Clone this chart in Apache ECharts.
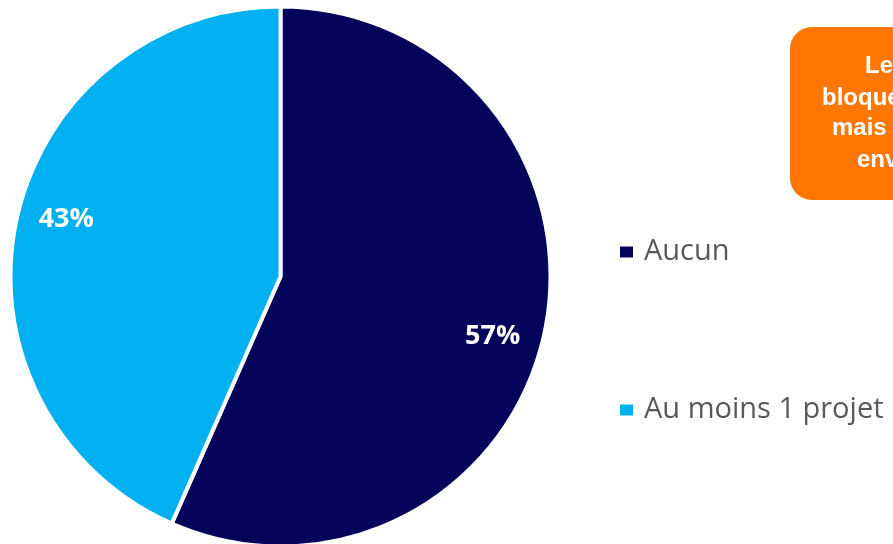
<!DOCTYPE html>
<html>
<head>
<meta charset="utf-8">
<script src="https://cdn.jsdelivr.net/npm/echarts@6/dist/echarts.min.js"></script>
<style>
html,body{margin:0;padding:0;background:#fff;}
#chart{width:893px;height:544px;}
</style>
</head>
<body>
<div id="chart"></div>
<script>
const categories = ['Aucun', 'Au moins 1 projet'];
const values = [56.6, 43.4];
const colors = ['#04045A', '#00B0F0'];
const noteLines = ['Les', 'bloqués', 'mais', 'envisagés'];

const chart = echarts.init(document.getElementById('chart'));
const pieData = categories.map((c, i) => ({ name: c, value: values[i], itemStyle: { color: colors[i] } }));

chart.setOption({
  animation: false,
  legend: {
    orient: 'vertical',
    left: 613,
    top: 231,
    itemGap: 126,
    itemWidth: 15,
    itemHeight: 13,
    icon: 'rect',
    data: categories,
    textStyle: {
      fontFamily: 'Open Sans',
      fontSize: 29,
      lineHeight: 32,
      color: '#595959',
      padding: [0, 0, 0, 5]
    }
  },
  series: [
    {
      type: 'pie',
      center: [280.5, 276.5],
      radius: [0, 270],
      startAngle: 90,
      clockwise: true,
      silent: true,
      itemStyle: { borderColor: '#ffffff', borderWidth: 4 },
      label: { show: false },
      labelLine: { show: false },
      data: pieData
    },
    {
      type: 'pie',
      center: [280.5, 276.5],
      radius: [172, 268],
      startAngle: 90,
      clockwise: true,
      silent: true,
      legendHoverLink: false,
      itemStyle: { color: 'transparent', borderWidth: 0 },
      label: {
        show: true,
        position: 'inside',
        formatter: p => Math.round(p.percent) + '%',
        color: '#ffffff',
        fontFamily: 'Open Sans',
        fontWeight: 'bold',
        fontSize: 27
      },
      labelLayout: p => (p.dataIndex === 0 ? { dx: -6, dy: 14 } : { dx: 4, dy: -11 }),
      labelLine: { show: false },
      data: categories.map((c, i) => ({ name: c + ' ', value: values[i] }))
    }
  ],
  graphic: [
    {
      type: 'rect',
      shape: { x: 790, y: 27, width: 220, height: 173, r: 22 },
      style: { fill: '#FF7700' }
    },
    { type: 'text', x: 865, y: 66.5, style: { text: noteLines[0], font: 'bold 24px "Liberation Sans"', fill: '#fff', verticalAlign: 'middle', align: 'left' } },
    { type: 'text', x: 822, y: 98, style: { text: noteLines[1], font: 'bold 24px "Liberation Sans"', fill: '#fff', verticalAlign: 'middle', align: 'left' } },
    { type: 'text', x: 832, y: 128.5, style: { text: noteLines[2], font: 'bold 24px "Liberation Sans"', fill: '#fff', verticalAlign: 'middle', align: 'left' } },
    { type: 'text', x: 857, y: 160, style: { text: noteLines[3], font: 'bold 24px "Liberation Sans"', fill: '#fff', verticalAlign: 'middle', align: 'left' } }
  ]
});
</script>
</body>
</html>
